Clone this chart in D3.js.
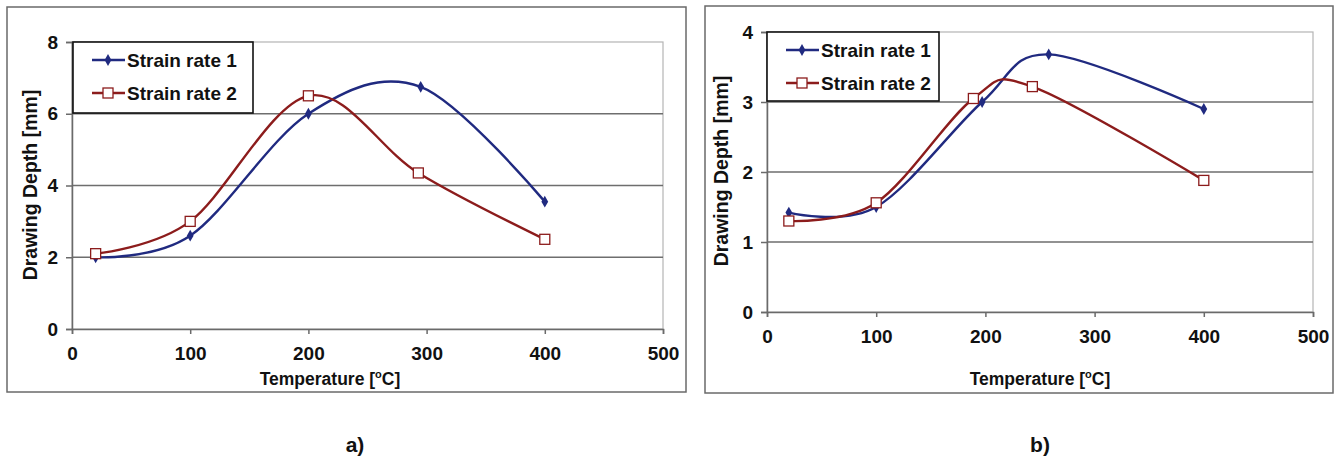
<!DOCTYPE html>
<html><head><meta charset="utf-8">
<script src="https://cdn.jsdelivr.net/npm/d3@7"></script>
<style>body{margin:0;background:#fff}svg{display:block}text{font-family:"Liberation Sans",Arial,sans-serif;font-weight:bold;fill:#111}</style>
</head><body><svg id="c" width="1344" height="457"></svg>
<script>
const seriesNames = ["Strain rate 1", "Strain rate 2"];
const xTicks = [0, 100, 200, 300, 400, 500];
const yTicksA = [0, 2, 4, 6, 8];
const yTicksB = [0, 1, 2, 3, 4];
// Chart a
const a1x = [20, 100, 200, 295, 400];
const a1y = [2.0, 2.6, 6.0, 6.75, 3.55];
const a2x = [20, 100, 200, 293, 400];
const a2y = [2.1, 3.0, 6.5, 4.35, 2.5];
// Chart b
const b1x = [20, 100, 197, 258, 400];
const b1y = [1.42, 1.5, 3.0, 3.68, 2.9];
const b2x = [20, 100, 189, 243, 400];
const b2y = [1.3, 1.56, 3.05, 3.22, 1.88];
const captions = ["a)", "b)"];

const svg = d3.select("#c");
const colors = ["#202a80", "#8c1c1c"];

function chart(cfg) {
  const g = svg.append("g");
  g.append("rect").attr("x", cfg.frame[0]).attr("y", cfg.frame[1])
    .attr("width", cfg.frame[2] - cfg.frame[0]).attr("height", cfg.frame[3] - cfg.frame[1])
    .attr("fill", "#fff").attr("stroke", "#6a6a6a").attr("stroke-width", 1.5);
  const x = d3.scaleLinear().domain([0, 500]).range([cfg.px0, cfg.px1]);
  const y = d3.scaleLinear().domain([0, cfg.ymax]).range([cfg.py0, cfg.py1]);
  g.append("rect").attr("x", cfg.px0).attr("y", cfg.py1).attr("width", cfg.px1 - cfg.px0)
    .attr("height", cfg.py0 - cfg.py1).attr("fill", "none").attr("stroke", "#b4b4b4").attr("stroke-width", 1.2);
  g.append("g").selectAll("line").data(cfg.yTicks.filter(d => d > 0 && d < cfg.ymax)).join("line")
    .attr("x1", cfg.px0).attr("x2", cfg.px1).attr("y1", d => y(d)).attr("y2", d => y(d))
    .attr("stroke", "#6e6e6e").attr("stroke-width", 1.4);
  const xa = g.append("g").attr("transform", `translate(0,${cfg.py0})`)
    .call(d3.axisBottom(x).tickValues(xTicks).tickFormat(d3.format("d")).tickSize(5).tickPadding(13));
  const ya = g.append("g").attr("transform", `translate(${cfg.px0},0)`)
    .call(d3.axisLeft(y).tickValues(cfg.yTicks).tickFormat(d3.format("d")).tickSize(6).tickPadding(8));
  [xa, ya].forEach(a => {
    a.attr("font-size", 18).attr("font-family", '"Liberation Sans",Arial,sans-serif');
    a.select(".domain").attr("stroke", "#6a6a6a").attr("stroke-width", 1.5);
    a.selectAll(".tick line").attr("stroke", "#6a6a6a").attr("stroke-width", 1.5);
    a.selectAll("text").attr("font-size", 19).attr("font-weight", "bold").attr("fill", "#111");
  });
  const data = cfg.series;
  data.forEach((s, i) => {
    const pts = s.x.map((v, k) => [v, s.y[k]]);
    const line = d3.line().x(d => x(d[0])).y(d => y(d[1])).curve(d3.curveCardinal.tension(0));
    g.append("path").attr("d", line(pts)).attr("fill", "none").attr("stroke", colors[i]).attr("stroke-width", 2.4);
  });
  data.forEach((s, i) => {
    const pts = s.x.map((v, k) => [v, s.y[k]]);
    if (i === 0) {
      g.append("g").selectAll("path").data(pts).join("path")
        .attr("d", d3.symbol(d3.symbolDiamond, 40)())
        .attr("transform", d => `translate(${x(d[0])},${y(d[1])})`).attr("fill", colors[0]);
    } else {
      g.append("g").selectAll("rect").data(pts).join("rect")
        .attr("x", d => x(d[0]) - 5).attr("y", d => y(d[1]) - 5).attr("width", 10).attr("height", 10)
        .attr("fill", "#fff").attr("stroke", colors[1]).attr("stroke-width", 1.3);
    }
  });
  const L = cfg.legend;
  g.append("rect").attr("x", L[0]).attr("y", L[1]).attr("width", L[2] - L[0]).attr("height", L[3] - L[1])
    .attr("fill", "#fff").attr("stroke", "#111").attr("stroke-width", 1.6);
  seriesNames.forEach((n, i) => {
    const ly = L[1] + 18 + i * 33;
    const lx = L[0] + 19;
    g.append("line").attr("x1", lx).attr("x2", lx + 33).attr("y1", ly).attr("y2", ly)
      .attr("stroke", colors[i]).attr("stroke-width", 2.4);
    if (i === 0) g.append("path").attr("d", d3.symbol(d3.symbolDiamond, 40)())
      .attr("transform", `translate(${lx + 16},${ly})`).attr("fill", colors[0]);
    else g.append("rect").attr("x", lx + 11).attr("y", ly - 5).attr("width", 10).attr("height", 10)
      .attr("fill", "#fff").attr("stroke", colors[1]).attr("stroke-width", 1.3);
    g.append("text").attr("x", lx + 35).attr("y", ly + 7).attr("font-size", 19).text(n);
  });
  const xt = g.append("text").attr("x", cfg.xtitle[0]).attr("y", cfg.xtitle[1]).attr("text-anchor", "middle").attr("font-size", 17.5);
  xt.append("tspan").text("Temperature [");
  xt.append("tspan").attr("font-size", 11).attr("dy", -7).text("o");
  xt.append("tspan").attr("dy", 7).text("C]");
  g.append("text").attr("transform", `translate(${cfg.ytitle[0]},${cfg.ytitle[1]}) rotate(-90)`)
    .attr("text-anchor", "middle").attr("font-size", 19.5).text("Drawing Depth [mm]");
  g.append("text").attr("x", cfg.cap[0]).attr("y", cfg.cap[1]).attr("text-anchor", "middle")
    .attr("font-family", '"Liberation Serif","Times New Roman",serif').attr("font-size", 21).text(cfg.caption);
}

chart({
  frame: [7, 7, 686, 392], px0: 72, px1: 663, py0: 329, py1: 42, ymax: 8, yTicks: yTicksA,
  series: [{x: a1x, y: a1y}, {x: a2x, y: a2y}],
  legend: [73, 42, 253, 113], xtitle: [330, 385], ytitle: [37, 185], cap: [355, 452], caption: captions[0]
});
chart({
  frame: [705, 6, 1333, 393], px0: 767, px1: 1313, py0: 312, py1: 32, ymax: 4, yTicks: yTicksB,
  series: [{x: b1x, y: b1y}, {x: b2x, y: b2y}],
  legend: [767, 32, 939, 101], xtitle: [1040, 385], ytitle: [728, 171], cap: [1040, 452], caption: captions[1]
});
</script></body></html>
